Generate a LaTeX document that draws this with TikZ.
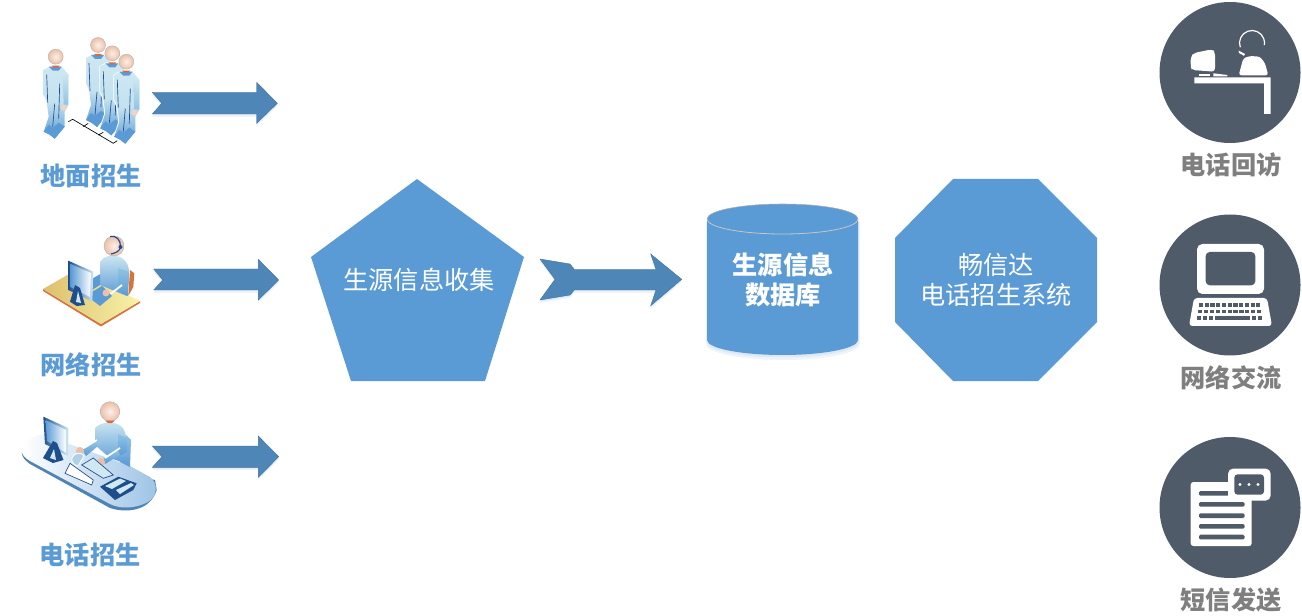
\documentclass[tikz,border=0pt]{standalone}
\usepackage{fontspec}
\setmainfont{Noto Sans CJK SC}
\definecolor{boxblue}{HTML}{5B9BD5}
\definecolor{arrowblue}{HTML}{4F86B8}
\definecolor{glow}{HTML}{DDE9F5}
\definecolor{glowb}{HTML}{EEF4FA}
\definecolor{slatec}{HTML}{4F5B69}
\definecolor{greyt}{HTML}{7F7F7F}
\definecolor{skin}{HTML}{EDBFA8}
\definecolor{skinl}{HTML}{FBF0E8}
\definecolor{paleb}{HTML}{CFE8F2}
\definecolor{midb}{HTML}{8FC4E4}
\definecolor{navy}{HTML}{1F4E8C}
\definecolor{deskl}{HTML}{DDBF6F}
\definecolor{deskr}{HTML}{F6F3A8}
\definecolor{desko}{HTML}{D8743B}
\definecolor{collar}{HTML}{D9683C}
\tikzset{
 x=0.75pt,y=-0.75pt,
 bluelabel/.style={font=\bfseries\fontsize{18.9}{20}\selectfont,text=boxblue,inner sep=0pt},
 greylabel/.style={font=\bfseries\fontsize{18.9}{20}\selectfont,text=greyt,inner sep=0pt},
 boxtext/.style={font=\fontsize{18.9}{22.5}\selectfont,text=white,inner sep=0pt,align=center},
 boxbold/.style={font=\bfseries\fontsize{18.9}{22.5}\selectfont,text=white,inner sep=0pt,align=center},
 blockarrow/.style={fill=arrowblue,draw=arrowblue!85!black,line width=0.3pt},
 bigshape/.style={fill=boxblue,draw=none},
 iconcircle/.style={fill=slatec,draw=none},
 whiteshape/.style={fill=white,draw=none},
 headshade/.style={inner color=skinl,outer color=skin,draw=gray!60,line width=0.3pt},
}
\newcommand{\bodyarrow}[1]{%
 \fill[glowb,yshift=-2.2pt] #1 -- cycle;
 \fill[glow,yshift=-1pt] #1 -- cycle;
 \path[blockarrow] #1 -- cycle;}
\newcommand{\standingman}[2]{%
 \begin{scope}[shift={(#1,#2)}]
  \path[fill=white] (-13,13) -- (-6,9) -- (6,9) -- (14,18) -- (14,48) -- (10,55) -- (10,71) -- (-1,83) -- (-13,76) -- (-8,60) -- (-10,45) -- (-13,38) -- cycle;
  \path[top color=paleb,bottom color=boxblue,middle color=paleb!80!midb] (-12,13) -- (-6,10) -- (6,10) -- (13,18) -- (13,48) -- (9,55) -- (9,70) -- (-1,82) -- (-6,78) -- (-12,75) -- (-7,60) -- (-9,45) -- (-12,38) -- cycle;
  \path[top color=paleb,bottom color=midb] (7,16) -- (13,18) -- (13,48) -- (8,48) -- cycle;
  \fill[boxblue] (-12,75) -- (-7,68) -- (-3,71) -- (3,66) -- (9,70) -- (-1,82) -- (-6,78) -- cycle;
  \draw[navy,line width=0.5pt] (-9,18) -- (-8,46) (4,27) -- (3,62) (-1,47) -- (-3,70);
  \fill[boxblue] (-7,10) -- (6,10) -- (3,14) -- (-3,14) -- cycle;
  \fill[collar] (-4,9) -- (4,9) -- (2,11) -- (-2,11) -- cycle;
  \fill[skin!70!white] (8,51) circle[radius=3];
  \path[headshade] (0,0) circle[radius=7.5];
 \end{scope}}
\begin{document}
\begin{tikzpicture}
\path[use as bounding box] (0,0) rectangle (1302,616);

% --- left icons: ground recruiting
\draw[black,line width=0.5pt] (68.3,121.7) -- (72.7,119.3) -- (113.3,143.3) -- (117.3,140.7)
  (83.3,126.7) -- (88.3,123.3) (98.3,135) -- (103.3,132.3);
\standingman{55.7}{56.7}
\standingman{98}{45}
\standingman{112.3}{53.3}
\standingman{126.3}{61.7}
\node[bluelabel] (l1) at (91,176) {地面招生};

% --- left icons: network recruiting
\fill[desko] (130,270) -- (134.3,273.3) -- (133.3,287) -- (128.3,296) -- cycle;
\fill[desko] (43,289) -- (101,324) -- (140,301) -- (140,303) -- (101,326.5) -- (43,291) -- cycle;
\path[left color=deskl,right color=deskr] (43,289) -- (76,270) -- (140,301) -- (101,324) -- cycle;
\path[top color=paleb,bottom color=boxblue] (100,262) .. controls (103,256) and (112,254) .. (120,257) .. controls (128,261) and (130,268) .. (129,280) -- (127,296) -- (100,285) -- cycle;
\path[top color=midb,bottom color=boxblue] (118,268) -- (129,272) -- (128,296) -- (118,290) -- cycle;
\fill[boxblue] (92,278) -- (100,274) -- (100,285) -- (92,290) -- cycle;
\draw[white,line width=1.4pt] (92,277.5) -- (100,273) (108,296) -- (122,285);
\fill[boxblue] (92,292) -- (102,286) -- (112,296) -- (100,306) -- (92,300) -- cycle;
\fill[skin] (106,293) circle[radius=3.5];
\path[left color=navy,right color=paleb] (68.3,260.7) -- (93.3,271.7) -- (92.3,301.7) -- (68.3,290) -- cycle;
\path[left color=boxblue,right color=white] (70.5,264) -- (91,273) -- (90,297) -- (70.5,287) -- cycle;
\fill[navy] (70,301.7) -- (75,285) -- (80,288) -- (85,305) -- (76.7,306) -- cycle;
\fill[paleb] (76,302) -- (78,291) -- (81,303) -- cycle;
\path[headshade] (114,246) circle[radius=10];
\draw[navy,line width=0.9pt] (110,236.5) .. controls (116,235) and (121,240) .. (120.5,247) .. controls (120,251) and (116,253) .. (111,254);
\fill[navy] (120.5,247) circle[radius=2];
\node[bluelabel] (l2) at (91,365) {网络招生};

% --- left icons: telephone recruiting
\fill[boxblue!85!black] (21.7,452) .. controls (22,458) and (26,461) .. (30,464) -- (110,508) .. controls (125,513) and (150,512) .. (156.7,490) -- (155,480) -- cycle;
\path[left color=white,right color=boxblue!60!white] (21.7,450) .. controls (22,444) and (30,438) .. (41.7,434) -- (130,466) -- (150,477) .. controls (158,483) and (158,496) .. (148,502) .. controls (135,509) and (120,509) .. (110,504) -- (30,461) .. controls (25,458) and (21.7,455) .. (21.7,450) -- cycle;
\path[top color=midb,bottom color=boxblue] (126,435) -- (131,440) -- (130,467) -- (120,462) -- cycle;
\path[top color=paleb,bottom color=boxblue] (95,428) .. controls (100,422) and (115,420) .. (122,427) .. controls (127,433) and (128,445) .. (127,464) -- (110,458) -- (95,445) -- cycle;
\path[top color=midb,bottom color=boxblue] (118,434) -- (127,438) -- (127,452) -- (118,456) -- cycle;
\path[top color=midb,bottom color=boxblue] (82,450) -- (95,441) -- (98,446) -- (86,456) -- cycle;
\path[top color=midb,bottom color=boxblue] (103,459) -- (118,450) -- (120,455) -- (105,464) -- cycle;
\draw[white,line width=1.3pt] (84,448) -- (97,440) (105,458) -- (120,448);
\fill[skin] (80,451) circle[radius=4];
\fill[skin] (101,462) circle[radius=4];
\draw[white,fill=paleb!70!boxblue,line width=0.6pt] (72,458) .. controls (74,452) and (82,452) .. (84,456) -- (78,466) .. controls (74,465) and (71,462) .. (72,458) -- cycle;
\path[left color=navy,right color=paleb] (43.3,416.7) -- (68.3,428) -- (68.3,456) -- (45,444) -- cycle;
\path[left color=boxblue,right color=white] (45.5,420) -- (66,430) -- (66,453) -- (47,441) -- cycle;
\fill[navy] (43,458) -- (53,441) -- (57,443) -- (63.5,460) -- (53,463) -- cycle;
\fill[paleb] (50,458) -- (54,449) -- (56,460) -- cycle;
\draw[navy,fill=white,line width=0.5pt] (70,463.3) -- (93.3,480) -- (91.7,485) -- (65,473.3) -- cycle;
\draw[navy,fill=paleb,line width=0.5pt] (81.7,465) -- (93.3,458) -- (113.3,475) -- (103.3,478.3) -- cycle;
\fill[navy] (100,486.7) -- (118.3,476.7) -- (136.7,483.3) -- (133.3,490) -- (115,500) -- cycle;
\fill[paleb] (105,486) -- (120,478.5) -- (126,481) -- (112,489) -- cycle;
\fill[paleb] (116,490) -- (131,483) -- (134,485) -- (120,494) -- cycle;
\path[headshade] (110,411.5) circle[radius=9.8];
\fill[collar] (105,420.5) -- (115,420.5) -- (112,423) -- (108,423) -- cycle;
\node[bluelabel] (l3) at (90,555) {电话招生};

% --- block arrows
\bodyarrow{(152.3,92.3) -- (161.7,103.3) -- (152.3,114) -- (256.7,114) -- (256.7,123.3) -- (277.3,103.3) -- (256.7,82.3) -- (256.7,92.3)}
\bodyarrow{(153.7,269) -- (162.7,280) -- (153.7,290) -- (258.3,290) -- (258.3,300) -- (278.7,280) -- (258.3,259.3) -- (258.3,269)}
\bodyarrow{(152.3,446) -- (162,456.7) -- (152.3,467.3) -- (258.3,467.3) -- (258.3,477.3) -- (278.7,456.7) -- (258.3,436) -- (258.3,446)}
\bodyarrow{(540,259) -- (570,264) -- (574.3,269.3) -- (656,269.3) -- (650.7,254) -- (681.7,279.3) -- (650.7,305.7) -- (656,290) -- (574.3,290) -- (570,295) -- (540,300) -- (555,279.3)}

% --- pentagon
\fill[bigshape] (417,179) -- (524,257) -- (485,381) -- (351,381) -- (311,257) -- cycle;
\node[boxtext] (collect) at (419,279.5) {生源信息收集};

% --- cylinder
\fill[glowb] (706,222) -- (860,222) -- (860,344) arc[start angle=0,end angle=180,x radius=77,y radius=16] -- cycle;
\fill[glow] (706.5,222) -- (859,222) -- (859,342) arc[start angle=0,end angle=180,x radius=76.25,y radius=15.5] -- cycle;
\fill[bigshape] (707,219) -- (707,340) arc[start angle=180,end angle=0,x radius=75.5,y radius=15] -- (858,219) arc[start angle=0,end angle=-180,x radius=75.5,y radius=15] -- cycle;
\draw[draw=gray!45,line width=0.6pt] (707,219) arc[start angle=180,end angle=0,x radius=75.5,y radius=15];
\draw[draw=gray!65,line width=0.4pt] (707,219) arc[start angle=180,end angle=360,x radius=75.5,y radius=15];
\node[boxbold] (db) at (783,279.5) {生源信息\\数据库};

% --- octagon
\fill[bigshape] (953,179) -- (1038,179) -- (1097,238) -- (1097,322) -- (1038,381) -- (953,381) -- (895,322) -- (895,238) -- cycle;
\node[boxtext] (sys) at (996,280) {畅信达\\电话招生系统};

% --- right circle 1: phone follow-up
\fill[iconcircle] (1230,72.5) circle[radius=70.5];
\fill[whiteshape] (1194.3,77.3) -- (1270.7,77.3) -- (1270.7,114) -- (1264,114) -- (1264,83.3) -- (1194.3,83.3) -- cycle;
\fill[whiteshape,rounded corners=2.5pt] (1190.7,56.7) -- (1194,53) -- (1212,49.3) -- (1215,52) -- (1215,71.7) -- (1192,70) -- (1190.7,67) -- cycle;
\fill[whiteshape] (1199,73.7) -- (1210,73.7) -- (1210,76.3) -- (1199,76.3) -- cycle;
\fill[whiteshape] (1213.3,73.3) -- (1227.3,75) -- (1227.3,76.3) -- (1213.3,76.3) -- cycle;
\fill[whiteshape,rounded corners=2pt] (1238.7,75.3) -- (1243.3,58.3) -- (1250,56) -- (1260,56.7) -- (1265,63.3) -- (1268.3,75.3) -- cycle;
\draw[white,line width=0.9pt] (1252,43) ++(160:12.5) arc[start angle=160,end angle=370,radius=12.5];
\fill[whiteshape] (1238.5,50.5) -- (1245,54) -- (1244,55.8) -- (1239,53) -- cycle;
\node[greylabel] (r1) at (1231,165) {电话回访};

% --- right circle 2: computer
\fill[iconcircle] (1230,285) circle[radius=70.5];
\fill[whiteshape,rounded corners=4pt] (1197,244) rectangle (1264,294);
\fill[iconcircle,rounded corners=3pt] (1205.7,252) rectangle (1255.3,285.3);
\fill[whiteshape,rounded corners=2.5pt] (1194,298) -- (1267,298) -- (1272,326) -- (1189,326) -- cycle;
\foreach \row/\xa/\xb/\yy in {0/1199/1262/303.5,1/1198/1263/310,2/1197/1264/316.5}{
  \foreach \k in {0,...,10}{
    \fill[iconcircle] ({\xa+(\xb-\xa)*\k/11},\yy) rectangle ++(4.2,3.4);
  }}
\fill[iconcircle] (1216,316.5) rectangle (1246,320);
\node[greylabel] (r2) at (1231,378) {网络交流};

% --- right circle 3: message
\fill[iconcircle] (1230,507.5) circle[radius=70.5];
\fill[whiteshape,rounded corners=2pt] (1190.7,482) rectangle (1251.7,546);
\foreach \yy in {491,502,513.3,524,534.7}{
  \fill[iconcircle,rounded corners=1pt] (1199,\yy) rectangle (1244.5,\yy+4.7);
}
\fill[whiteshape,rounded corners=4pt] (1228,468.5) rectangle (1270.7,500.7);
\fill[iconcircle,rounded corners=2.5pt] (1234.3,474.3) rectangle (1264,494.7);
\foreach \xx in {1249,1258,1240}{\fill[white] (\xx,484.5) circle[radius=1.7];}
\node[greylabel] (r3) at (1231,600) {短信发送};
\end{tikzpicture}
\end{document}
